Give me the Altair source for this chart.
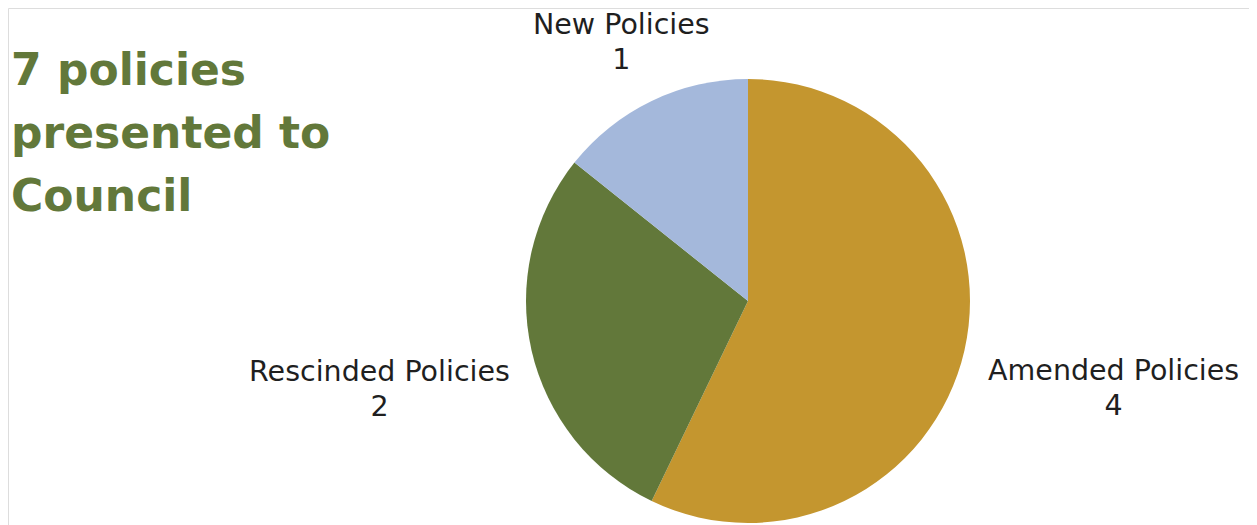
import math
import altair as alt
import pandas as pd

categories = ["Amended Policies", "Rescinded Policies", "New Policies"]
values = [4, 2, 1]
colors = ["#C4962F", "#62783A", "#A4B8DB"]
title_text = "7 policies\npresented to\nCouncil"

total = sum(values)
df = pd.DataFrame({
    "category": categories,
    "value": values,
    "order": list(range(len(categories))),
})
df["label"] = [f"{c}\n{v}" for c, v in zip(categories, values)]

CX, CY, R = 740, 293, 222
label_radius = {"Amended Policies": 375, "Rescinded Policies": 378, "New Policies": 292}

base = alt.Chart(df)

color = alt.Color("category:N", scale=alt.Scale(domain=categories, range=colors), legend=None)

pie = base.mark_arc(outerRadius=R, strokeWidth=0).encode(
    theta=alt.Theta("value:Q", stack=True),
    order=alt.Order("order:Q"),
    color=color,
    x=alt.value(CX),
    y=alt.value(CY),
)

mid = base.transform_window(
    cum="sum(value)", sort=[alt.SortField("order")]
).transform_calculate(mid="datum.cum - datum.value / 2")

layers = [pie]
for cat in categories:
    layers.append(
        mid.transform_filter(alt.datum.category == cat)
        .mark_text(
            font="DejaVu Sans", fontSize=28.5, color="#1f1f1f",
            lineBreak="\n", lineHeight=35, align="center", baseline="middle",
            radius=label_radius[cat], dy=-13,
        )
        .encode(
            theta=alt.Theta("mid:Q", stack=None,
                            scale=alt.Scale(domain=[0, total], range=[0, 2 * math.pi])),
            text="label:N",
            x=alt.value(CX),
            y=alt.value(CY),
        )
    )

title = alt.Chart(pd.DataFrame({"t": [title_text]})).mark_text(
    font="DejaVu Sans", fontWeight="bold", fontSize=44, color="#62783A",
    lineBreak="\n", lineHeight=63, align="left", baseline="alphabetic",
).encode(text="t:N", x=alt.value(3), y=alt.value(77))
layers.append(title)

chart = alt.layer(*layers).resolve_scale(theta="independent").properties(
    width=1241, height=517, padding=0, autosize=alt.AutoSizeParams(type="none")
).configure_view(stroke="transparent", strokeWidth=0).configure(background="#ffffff")

chart.save("out.html", embed_options={"renderer": "svg", "actions": False})
